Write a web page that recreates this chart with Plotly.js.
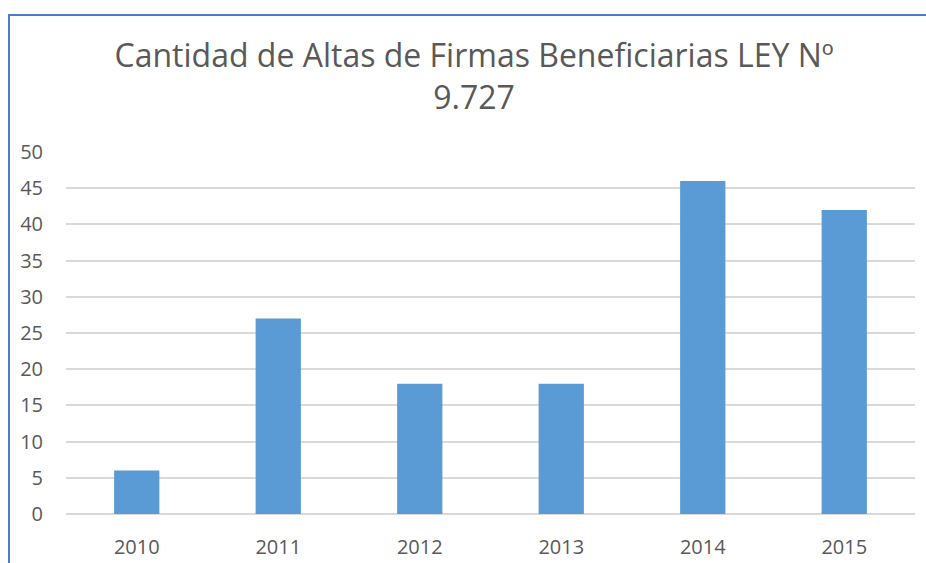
<!DOCTYPE html>
<html>
<head>
<meta charset="utf-8">
<script src="https://cdn.plot.ly/plotly-3.0.1.min.js"></script>
<style>
html,body{margin:0;padding:0;background:#fff;}
#wrap{position:absolute;left:0;top:0;width:926px;height:563px;overflow:hidden;}
#frame{position:absolute;left:8px;top:14px;width:940px;height:600px;border-left:2px solid #4a7bd0;border-top:2px solid #4a7bd0;pointer-events:none;}
#chart{position:absolute;left:0;top:0;width:926px;height:563px;}
</style>
</head>
<body>
<div id="wrap">
<div id="chart"></div>
<div id="frame"></div>
</div>
<script>
const years = ['2010','2011','2012','2013','2014','2015'];
const altas = [6, 27, 18, 18, 46, 42];
const titleText = 'Cantidad de Altas de Firmas Beneficiarias LEY Nº<br>9.727';

const trace = {
  type: 'bar',
  x: years,
  y: altas,
  marker: {color: '#5b9bd5', line: {width: 0}},
  hoverinfo: 'x+y'
};

const layout = {
  width: 926, height: 563,
  margin: {l: 66, r: 11, t: 152, b: 49},
  paper_bgcolor: '#ffffff',
  plot_bgcolor: '#ffffff',
  bargap: 0.68,
  showlegend: false,
  font: {family: 'Open Sans, Noto Sans, sans-serif', color: '#595959', size: 20},
  title: {
    text: titleText,
    x: 0.512, xanchor: 'center',
    y: 0.881, yanchor: 'top',
    font: {size: 32, color: '#595959', family: 'Open Sans, Noto Sans, sans-serif'}
  },
  xaxis: {
    type: 'category',
    showgrid: false,
    showline: false,
    ticks: '',
    tickfont: {size: 20, color: '#595959'},
    ticklabelstandoff: 19
  },
  yaxis: {
    range: [0, 50],
    dtick: 5,
    showgrid: true,
    gridcolor: '#d9d9d9',
    gridwidth: 2,
    zeroline: true,
    zerolinecolor: '#d9d9d9',
    zerolinewidth: 2.5,
    showline: false,
    ticks: '',
    tickfont: {size: 20, color: '#595959'},
    ticklabelstandoff: 22
  }
};

Plotly.newPlot('chart', [trace], layout, {displayModeBar: false, staticPlot: true});
</script>
</body>
</html>
